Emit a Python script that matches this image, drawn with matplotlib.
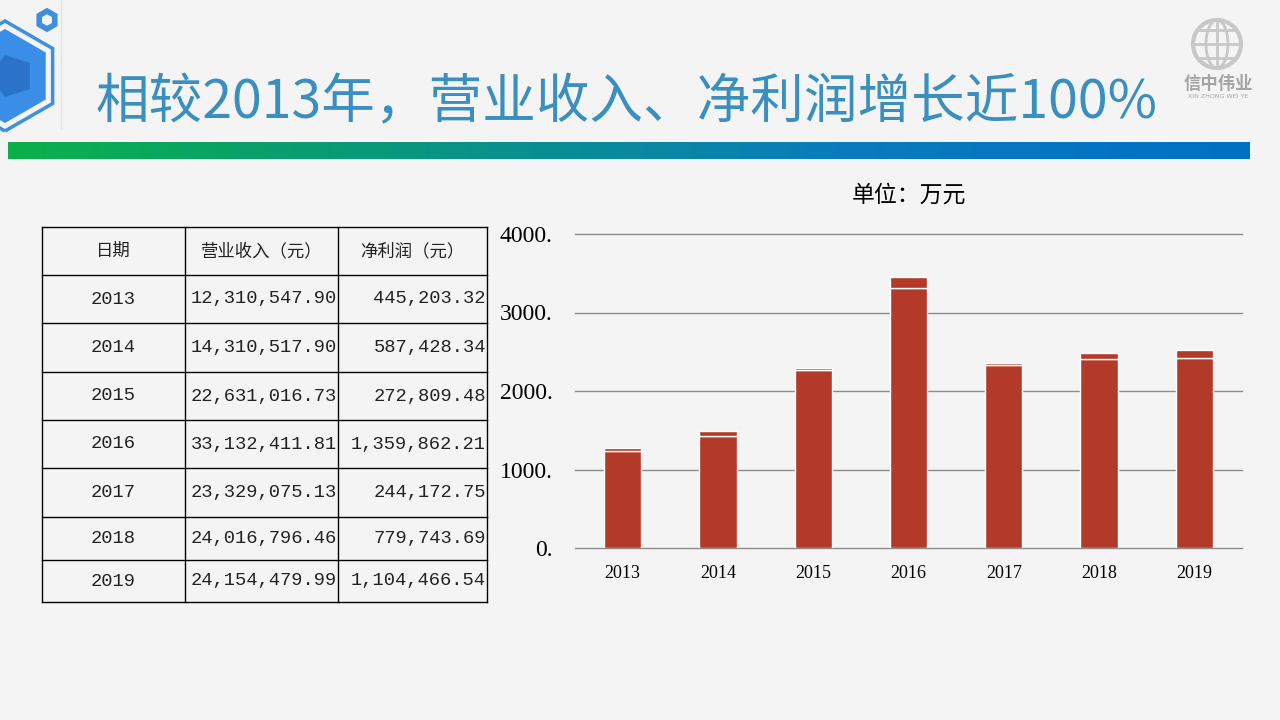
import numpy as np
import matplotlib
matplotlib.use('Agg')
import matplotlib.pyplot as plt
from matplotlib.patches import RegularPolygon, Circle, Ellipse

plt.rcParams['font.family'] = ['Liberation Serif', 'Noto Sans CJK SC', 'DejaVu Sans']

# data
years = ['2013', '2014', '2015', '2016', '2017', '2018', '2019']
revenue_yuan = [12310547.90, 14310517.90, 22631016.73, 33132411.81,
                23329075.13, 24016796.46, 24154479.99]
profit_yuan = [445203.32, 587428.34, 272809.48, 1359862.21,
               244172.75, 779743.69, 1104466.54]
col_headers = ['日期', '营业收入（元）', '净利润（元）']
y_ticks = [0, 1000, 2000, 3000, 4000]

title = '相较2013年，营业收入、净利润增长近100%'
bg = '#f4f4f4'
bar_color = '#b33a28'
mono = ['Liberation Mono', 'Noto Sans CJK SC']

fig = plt.figure(figsize=(12.8, 7.2), dpi=100, facecolor=bg)

# overlay in pixel coords for decorations and table
ov = fig.add_axes([0, 0, 1, 1])
ov.axis('off')

# left hexagon decoration
ov.add_patch(RegularPolygon((5, 76), 6, radius=55, orientation=0,
                            facecolor='none', edgecolor='#3d8fe0', lw=2.5))
ov.add_patch(RegularPolygon((5, 76), 6, radius=47, orientation=0,
                            facecolor='#3a8ee6', edgecolor='none'))
ov.add_patch(RegularPolygon((12, 76), 5, radius=22, orientation=np.pi / 2,
                            facecolor='#2a73c8', edgecolor='none'))
ov.add_patch(RegularPolygon((47, 20), 6, radius=9, orientation=0,
                            facecolor='none', edgecolor='#3d8fe0', lw=4))
ov.plot([61, 61], [0, 128], color='#e2e2e2', lw=1)

# title
ov.text(95, 103, title, fontsize=38.6, color='#3a8fc0', va='center', ha='left',
        family=['Noto Sans CJK SC', 'DejaVu Sans'])

# gradient bar
grad = np.linspace(0, 1, 256).reshape(1, -1)
cmap = matplotlib.colors.LinearSegmentedColormap.from_list(
    'g', ['#0bb04a', '#089680', '#0a7cbc', '#0070c4'])
ov.imshow(grad, cmap=cmap, extent=(8, 1250, 159, 142), aspect='auto', zorder=2)

# logo
ov.add_patch(Circle((1217, 44), 24, facecolor='none', edgecolor='#c8c8c8', lw=3))
ov.add_patch(Ellipse((1217, 44), 22, 48, facecolor='none', edgecolor='#c8c8c8', lw=2))
for yy in [30, 44, 58]:
    half = np.sqrt(max(24 ** 2 - (yy - 44) ** 2, 0))
    ov.plot([1217 - half, 1217 + half], [yy, yy], color='#c8c8c8', lw=2)
ov.plot([1217, 1217], [20, 68], color='#c8c8c8', lw=2)
ov.text(1218, 84, '信中伟业', fontsize=12.5, color='#a4a4a4', ha='center', va='center',
        fontweight='bold', family=['Noto Sans CJK SC'])
ov.text(1218, 96, 'XIN ZHONG WEI YE', fontsize=4.5, color='#a4a4a4', ha='center',
        va='center', family=['DejaVu Sans'])

# table
col_x = [42, 185, 338, 487]
row_y = [227, 275, 323, 372, 420, 468, 517, 560, 602]
for x in col_x:
    ov.plot([x, x], [row_y[0], row_y[-1]], color='black', lw=1)
for y in row_y:
    ov.plot([col_x[0], col_x[-1]], [y, y], color='black', lw=1)
for j, h in enumerate(col_headers):
    ov.text((col_x[j] + col_x[j + 1]) / 2, (row_y[0] + row_y[1]) / 2, h,
            fontsize=12.5, ha='center', va='center', color='#222222',
            family=['Noto Sans CJK SC'])
for i, yr in enumerate(years):
    yc = (row_y[i + 1] + row_y[i + 2]) / 2
    ov.text((col_x[0] + col_x[1]) / 2, yc, yr, fontsize=13.5, ha='center', va='center',
            color='#222222', family=mono)
    ov.text(col_x[2] - 1, yc, f'{revenue_yuan[i]:,.2f}', fontsize=13.5, ha='right',
            va='center', color='#222222', family=mono)
    ov.text(col_x[3] - 1, yc, f'{profit_yuan[i]:,.2f}', fontsize=13.5, ha='right',
            va='center', color='#222222', family=mono)

ov.set_xlim(0, 1280)
ov.set_ylim(720, 0)

# chart
revenue_wan = np.array(revenue_yuan) / 10000
profit_wan = np.array(profit_yuan) / 10000
ax = fig.add_axes([575 / 1280, 1 - 548 / 720, (1242 - 575) / 1280, (548 - 234) / 720])
ax.set_facecolor('none')
x = np.arange(len(years))
ax.bar(x, revenue_wan, 0.39, color=bar_color, edgecolor='white', lw=1, zorder=3)
ax.bar(x, profit_wan, 0.39, bottom=revenue_wan, color=bar_color, edgecolor='white',
       lw=1, zorder=3)
for v in y_ticks:
    ax.axhline(v, color='#8c8c8c', lw=1, zorder=1, clip_on=False)
ax.set_xlim(-0.5, len(years) - 0.5)
ax.set_ylim(0, 4000)
ax.set_yticks(y_ticks)
ax.set_yticklabels([f'{v}.' for v in y_ticks], fontsize=17)
ax.set_xticks(x)
ax.set_xticklabels(years, fontsize=13)
ax.tick_params(length=0, pad=12)
ax.tick_params(axis='y', pad=16)
for s in ax.spines.values():
    s.set_visible(False)
ax.set_title('单位：万元', fontsize=16.5, pad=23, family=['Noto Sans CJK SC'])

fig.savefig('out.png', dpi=100, facecolor=bg)
